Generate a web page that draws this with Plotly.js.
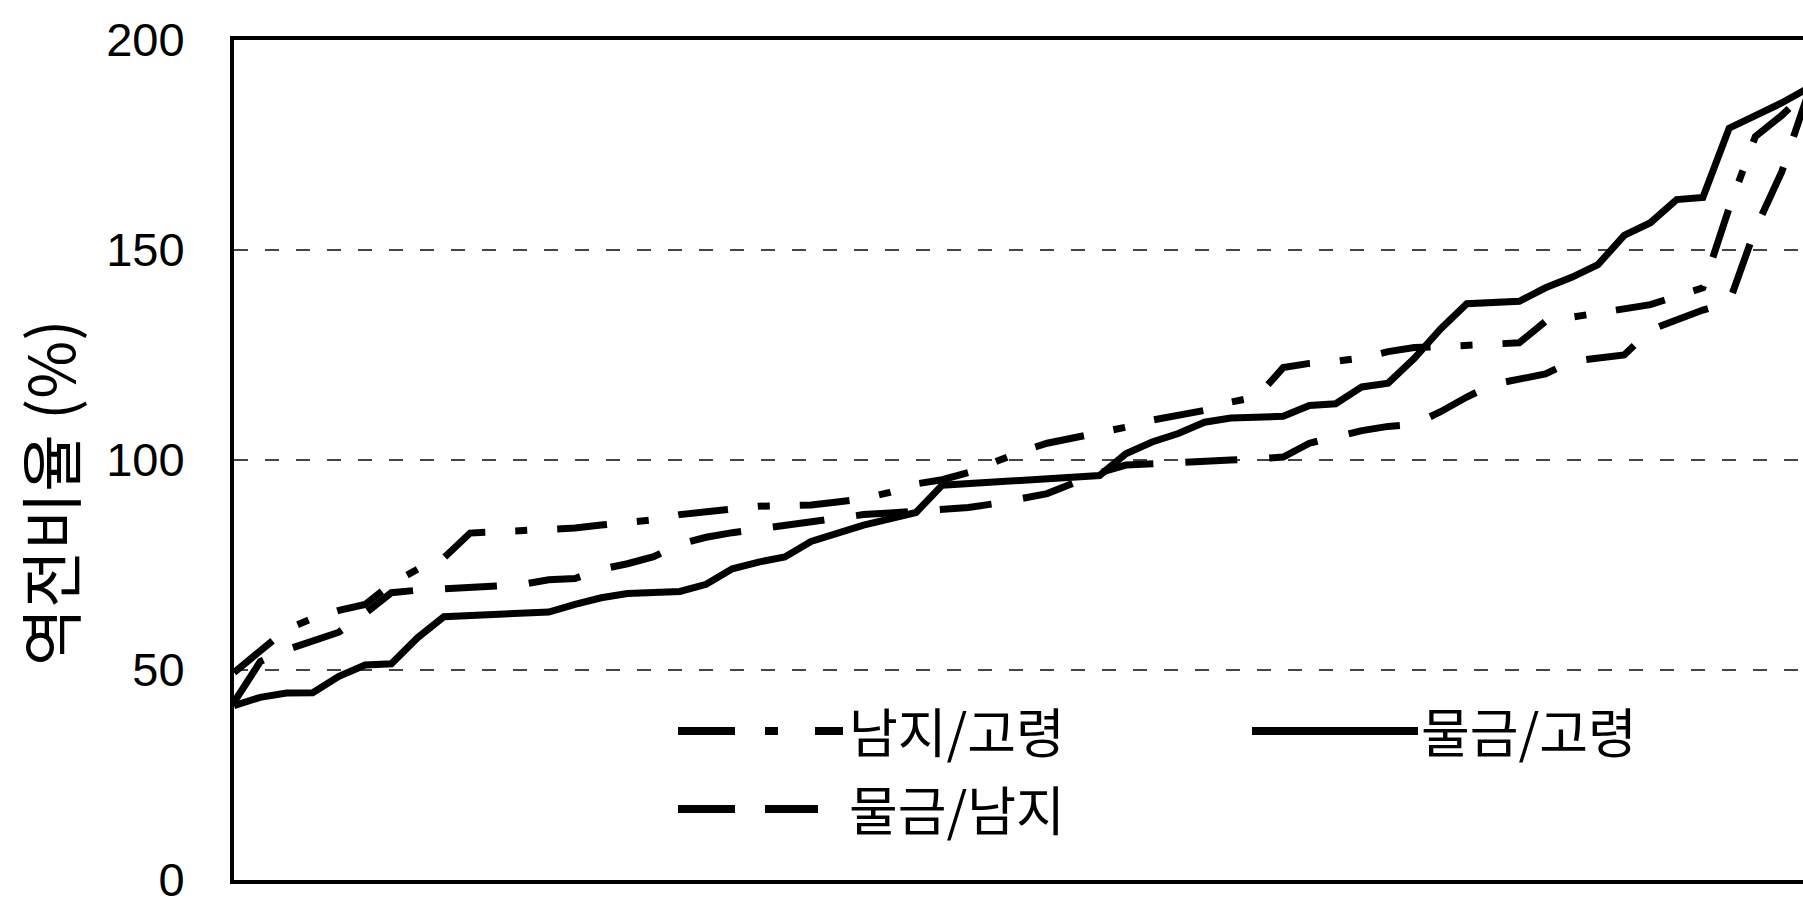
<!DOCTYPE html>
<html>
<head>
<meta charset="utf-8">
<script src="https://cdn.plot.ly/plotly-3.0.1.min.js"></script>
<style>
html, body { margin: 0; padding: 0; background: #ffffff; overflow: hidden; }
#chart { width: 1803px; height: 907px; }
</style>
</head>
<body>
<div id="chart"></div>
<script>
// ---- data ----
const ranks = [1,2,3,4,5,6,7,8,9,10,11,12,13,14,15,16,17,18,19,20,
               21,22,23,24,25,26,27,28,29,30,31,32,33,34,35,36,37,38,39,40,
               41,42,43,44,45,46,47,48,49,50,51,52,53,54,55,56,57,58,59,60,61];

const namjiGoryeong = [49.4,54.5,59.7,62.3,64.2,65.6,70.5,74.0,76.7,82.6,
                       82.8,83.0,83.3,83.8,84.5,85.2,85.8,87.0,87.8,88.6,
                       89.0,89.1,89.3,90.0,90.8,92.3,94.3,95.3,97.0,99.5,
                       102.0,104.0,105.2,106.3,107.8,109.5,110.5,111.8,113.8,115.0,
                       122.0,123.0,123.5,124.3,125.8,126.8,127.0,127.3,127.6,127.9,
                       133.0,134.0,134.6,135.8,137.0,139.0,141.0,160.0,177.0,182.0,188.0];

const mulgeumGoryeong = [41.5,43.5,44.5,44.6,48.5,51.2,51.5,57.7,62.7,63.0,
                         63.6,63.7,63.8,65.6,67.2,68.2,68.6,68.7,70.4,74.1,
                         75.7,76.9,80.6,82.6,84.5,86.0,87.5,94.0,94.4,94.8,
                         95.2,95.5,95.9,96.3,101.5,104.3,106.3,109.0,110.0,110.2,
                         110.4,113.0,113.4,117.4,118.3,124.2,131.2,137.2,137.5,137.8,
                         141.0,143.5,146.5,153.5,156.5,162.0,162.5,179.0,182.0,185.0,188.5];

const mulgeumNamji = [42.3,52.0,54.8,57.0,59.0,63.5,68.4,69.0,69.2,69.6,
                      70.0,70.4,71.5,71.8,74.0,75.3,77.0,80.0,81.6,82.7,
                      83.6,84.4,85.2,86.2,87.0,87.4,87.8,88.2,88.7,89.6,
                      90.8,92.0,94.5,97.0,98.8,99.2,99.5,99.8,100.0,100.3,
                      100.7,104.0,105.5,107.0,108.0,108.5,111.5,115.0,118.0,119.2,
                      120.5,123.5,124.3,125.0,131.0,133.5,135.7,137.5,155.0,168.5,187.0];

const seriesNames = ['남지/고령', '물금/고령', '물금/남지'];
const yTickVals = [0, 50, 100, 150, 200];
const yTickText = ['0', '50', '100', '150', '200'];
const yTitle = '역전비율\u00a0(%)';

// ---- styles / geometry ----
const W = 1803, H = 907;
const M = { l: 234, r: 0, t: 40, b: 27 };
const plotW = W - M.l - M.r;
const plotH = H - M.t - M.b;
const pointSpacing = 26.23;
const px2x = px => (px - M.l) / plotW;
const px2y = py => (H - M.b - py) / plotH;

const dashDot = '50px,30px,12px,30px';
const dashed = '52px,32px';
const lineW = 7;
const hangulFont = '"Noto Sans CJK KR", "Noto Sans", sans-serif';
const numFont = '"Liberation Sans", Arial, sans-serif';
const legendSize = 53;

const traces = [
  { x: ranks, y: mulgeumNamji, name: seriesNames[2], type: 'scatter', mode: 'lines',
    line: { color: '#000', width: lineW, dash: dashed } },
  { x: ranks, y: namjiGoryeong, name: seriesNames[0], type: 'scatter', mode: 'lines',
    line: { color: '#000', width: lineW, dash: dashDot } },
  { x: ranks, y: mulgeumGoryeong, name: seriesNames[1], type: 'scatter', mode: 'lines',
    line: { color: '#000', width: lineW } }
];

// hand-drawn legend (long symbols like the original)
const row1 = 731, row2 = 809;
const legendItems = [
  { name: seriesNames[0], x0: 678, x1: 843, y: row1, dash: '57px,30px,13px,37px', tx: 848 },
  { name: seriesNames[1], x0: 1252, x1: 1418, y: row1, dash: 'solid', tx: 1420 },
  { name: seriesNames[2], x0: 678, x1: 818, y: row2, dash: '57px,30px', tx: 848 }
];
const shapes = legendItems.map(it => ({
  type: 'line', xref: 'paper', yref: 'paper',
  x0: px2x(it.x0), x1: px2x(it.x1), y0: px2y(it.y), y1: px2y(it.y),
  line: { color: '#000', width: 8, dash: it.dash }
}));
const annotations = legendItems.map(it => ({
  xref: 'paper', yref: 'paper', x: px2x(it.tx), y: px2y(it.y - 1),
  xanchor: 'left', yanchor: 'middle', showarrow: false, borderpad: 0,
  text: it.name,
  font: { family: hangulFont, size: legendSize, color: '#000' }
}));
// y-axis title, placed like the original (slightly below the plot centre)
annotations.push({
  xref: 'paper', yref: 'paper', x: px2x(47), y: px2y(493),
  xanchor: 'center', yanchor: 'middle', showarrow: false, textangle: -90,
  text: yTitle, font: { family: hangulFont, size: 63, color: '#000' }
});

const layout = {
  width: W, height: H,
  margin: M,
  paper_bgcolor: '#fff', plot_bgcolor: '#fff',
  showlegend: false,
  xaxis: {
    range: [ranks[0], ranks[0] + plotW / pointSpacing],
    showgrid: false, zeroline: false, showticklabels: false, ticks: '',
    showline: true, mirror: true, linecolor: '#000', linewidth: 4
  },
  yaxis: {
    range: [0, 200],
    tickmode: 'array', tickvals: yTickVals, ticktext: yTickText,
    showgrid: true, gridcolor: '#444', gridwidth: 1.5, griddash: '14px,17px',
    zeroline: false, ticks: '',
    showline: true, mirror: false, linecolor: '#000', linewidth: 4,
    ticklabelstandoff: 36, ticklabeloverflow: 'allow',
    tickfont: { family: numFont, size: 47, color: '#000' }
  },
  shapes: shapes,
  annotations: annotations
};

Plotly.newPlot('chart', traces, layout, { displayModeBar: false, staticPlot: true });
</script>
</body>
</html>
